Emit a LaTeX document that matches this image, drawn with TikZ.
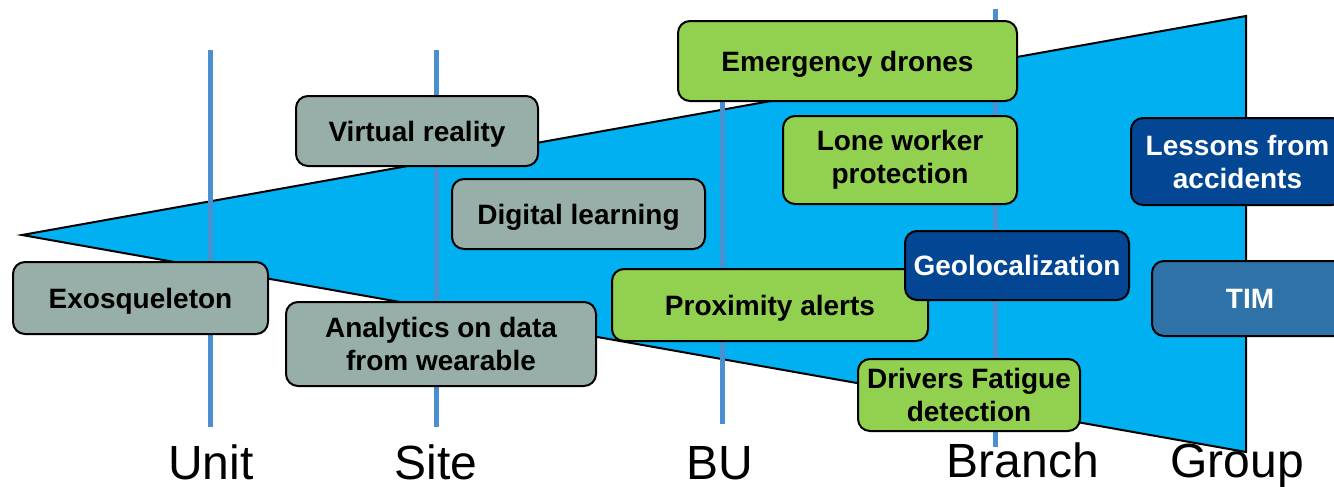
\documentclass[tikz,border=0pt]{standalone}
\usepackage{fontspec}
\setmainfont{Liberation Sans}
\usepackage{tikz}
\usetikzlibrary{positioning, calc}
\definecolor{funnel}{HTML}{00B0F0}
\definecolor{levelline}{HTML}{4A8FCF}
\definecolor{greyfill}{HTML}{97AFA8}
\definecolor{greenfill}{HTML}{92D050}
\definecolor{navyfill}{HTML}{034693}
\definecolor{steelfill}{HTML}{2E72A8}

\begin{document}
\begin{tikzpicture}[x=0.5pt, y=-0.5pt,
    idea/.style={draw, line width=1pt, rounded corners=6pt, align=center, inner sep=0pt,
      font=\fontsize{14}{16.5}\selectfont\bfseries},
    oneline/.style={text height=10pt, text depth=0pt},
    greybox/.style={idea, fill=greyfill},
    greenbox/.style={idea, fill=greenfill},
    navybox/.style={idea, fill=navyfill, text=white},
    steelbox/.style={idea, fill=steelfill, text=white},
    level/.style={levelline, line width=2.5pt},
    levelname/.style={anchor=base, font=\fontsize{24}{27}\selectfont}]
    \useasboundingbox (0,0) rectangle (1334,487);
    \clip (0,0) rectangle (1334,487);

    % Funnel
    \coordinate (tip) at (22,235);
    \coordinate (top) at (1246,16);
    \coordinate (bot) at (1246,452);
    \fill[funnel] (tip) -- (top) -- (bot) -- cycle;
    \draw[line width=1pt] (tip) -- (top) -- (bot) -- cycle;

    % Levels
    \coordinate (u1) at (210,50);  \coordinate (u2) at (210,427);
    \coordinate (s1) at (436,50);  \coordinate (s2) at (436,427);
    \coordinate (b1) at (722,50);  \coordinate (b2) at (722,424);
    \coordinate (r1) at (995,9);   \coordinate (r2) at (995,447);
    \draw[level] (u1) -- (u2);
    \draw[level] (s1) -- (s2);
    \draw[level] (b1) -- (b2);
    \draw[level] (r1) -- (r2);

    \node[levelname] (unit) at (211,479) {Unit};
    \node[levelname] (site) at (436,479) {Site};
    \node[levelname] (bu) at (720,479) {BU};
    \node[levelname] (branch) at (1023,477) {Branch};
    \node[levelname] (group) at (1237,477) {Group};

    % Nodes
    \node[greybox, oneline, minimum width=127.5pt, minimum height=36pt] (exo) at (140.5,298) {Exosqueleton};
    \node[greybox, oneline, minimum width=121pt, minimum height=35pt] (vr) at (417,131) {Virtual reality};
    \node[greybox, oneline, minimum width=126.5pt, minimum height=35pt] (dl) at (578.5,214) {Digital learning};
    \node[greybox, minimum width=155pt, minimum height=42pt] (wear) at (441,344) {Analytics on data\\from wearable};

    \node[greenbox, oneline, minimum width=169.5pt, minimum height=40pt] (drones) at (847.5,61) {Emergency drones};
    \node[greenbox, minimum width=117pt, minimum height=44pt] (lone) at (900,160) {Lone worker\\protection};
    \node[greenbox, oneline, minimum width=158pt, minimum height=36pt] (prox) at (770,305) {Proximity alerts};
    \node[navybox, oneline, minimum width=112pt, minimum height=34.5pt] (geo) at (1017,265.5) {Geolocalization};
    \node[greenbox, minimum width=111pt, minimum height=36pt] (fatigue) at (969,395) {Drivers Fatigue\\detection};

    \node[navybox, minimum width=106.5pt, minimum height=43.5pt] (lessons) at (1237.5,161.5) {Lessons from\\accidents};
    \node[steelbox, oneline, minimum width=98pt, minimum height=37.5pt] (tim) at (1250,298.5) {TIM};
\end{tikzpicture}
\end{document}
